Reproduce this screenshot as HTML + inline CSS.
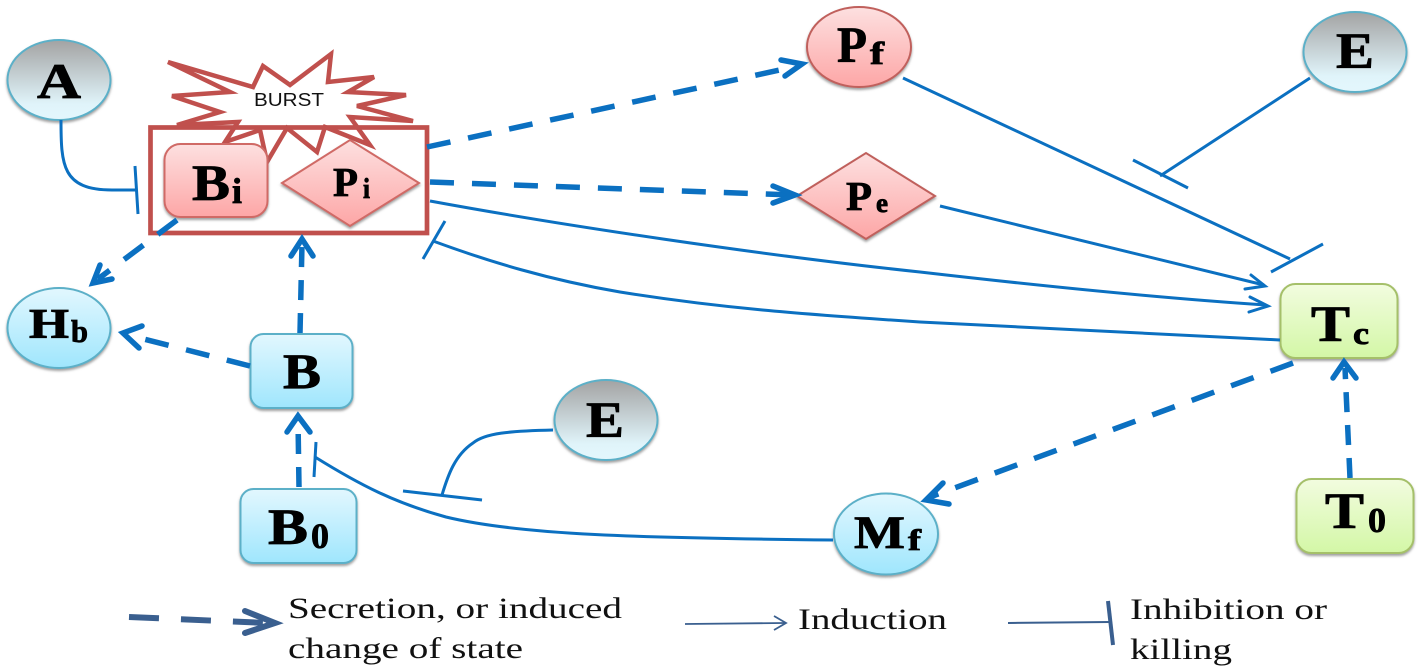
<!DOCTYPE html>
<html><head><meta charset="utf-8"><style>
html,body{margin:0;padding:0;background:#fff;width:1421px;height:672px;overflow:hidden}
svg{display:block;filter:blur(.35px)}
.n{font-family:"Liberation Serif",serif;font-weight:bold;fill:#000;stroke:#000;stroke-width:.8}
.l{font-family:"Liberation Serif",serif;fill:#111;font-size:30px}
.d{fill:none;stroke:#0b70c1;stroke-width:5.5;stroke-dasharray:24 18}
.v{stroke-dasharray:20 13}
.h{fill:none;stroke:#0b70c1;stroke-width:5.5;stroke-linecap:round}
.s{fill:none;stroke:#0b70c1;stroke-width:3}
.a{fill:none;stroke:#0b70c1;stroke-width:3;stroke-linecap:round}
</style></head><body>
<svg width="1421" height="672" viewBox="0 0 1421 672" xmlns="http://www.w3.org/2000/svg">
<defs>
<linearGradient id="b" x1="0" y1="0" x2="0" y2="1"><stop offset="0" stop-color="#e2f7fe"/><stop offset="1" stop-color="#9fe6fd"/></linearGradient>
<linearGradient id="g" x1="0" y1="0" x2="0" y2="1"><stop offset="0" stop-color="#a3a3a3"/><stop offset=".8" stop-color="#e0f4fa"/><stop offset="1" stop-color="#e4f7fd"/></linearGradient>
<linearGradient id="r" x1="0" y1="0" x2="0" y2="1"><stop offset="0" stop-color="#fde0e0"/><stop offset="1" stop-color="#fda6a6"/></linearGradient>
<linearGradient id="v" x1="0" y1="0" x2="0" y2="1"><stop offset="0" stop-color="#f2fcdf"/><stop offset="1" stop-color="#d3f7a6"/></linearGradient>
<filter id="sh" x="-10%" y="-10%" width="120%" height="125%"><feDropShadow dx="0" dy="2" stdDeviation="1.2" flood-color="#777" flood-opacity=".7"/></filter>
</defs>

<polygon points="168,62 253,87 263,66 290,85 331,54 328,82 374,77 348,92 406,95 357,106 413,121 350,117 370,145 325,127 317,152 287,128 267,162 260,130 225,142 238,122 177,125 220,112 172,96 230,92" fill="#fff" stroke="#c0504d" stroke-width="4.500"/>
<text x="254" y="106" font-family="Liberation Sans,sans-serif" font-size="18" textLength="70" lengthAdjust="spacingAndGlyphs" fill="#111">BURST</text>
<rect x="150.500" y="127.500" width="276.500" height="105.500" fill="none" stroke="#c0504d" stroke-width="4.700"/>

<!-- nodes -->
<g filter="url(#sh)">
<ellipse cx="59" cy="80" rx="51.5" ry="40" fill="url(#g)" stroke="#5cb0c8" stroke-width="2"/>
<ellipse cx="1355" cy="52" rx="51.5" ry="40" fill="url(#g)" stroke="#5cb0c8" stroke-width="2"/>
<ellipse cx="606" cy="420" rx="51.5" ry="40" fill="url(#g)" stroke="#5cb0c8" stroke-width="2"/>
<ellipse cx="59" cy="328" rx="51.5" ry="40" fill="url(#b)" stroke="#5cb0c8" stroke-width="2"/>
<ellipse cx="886" cy="534" rx="52" ry="40.5" fill="url(#b)" stroke="#5cb0c8" stroke-width="2"/>
<ellipse cx="859" cy="47" rx="52" ry="40" fill="url(#r)" stroke="#c0605c" stroke-width="2"/>
<rect x="164.500" y="144" width="103" height="73" rx="16" fill="url(#r)" stroke="#d06a66" stroke-width="2"/>
<polygon points="282,183 350,140 419,183 350,226" fill="url(#r)" stroke="#d06a66" stroke-width="2"/>
<polygon points="797,196 866,153 935,196 866,239" fill="url(#r)" stroke="#c0605c" stroke-width="2"/>
<rect x="250.500" y="334" width="102" height="74" rx="13" fill="url(#b)" stroke="#5cb0c8" stroke-width="2"/>
<rect x="240.500" y="489" width="116" height="74" rx="13" fill="url(#b)" stroke="#5cb0c8" stroke-width="2"/>
<rect x="1280.500" y="284" width="117" height="74" rx="15" fill="url(#v)" stroke="#a5c06a" stroke-width="2"/>
<rect x="1296.500" y="479" width="117" height="74" rx="15" fill="url(#v)" stroke="#a5c06a" stroke-width="2"/>
</g>

<!-- labels -->
<text class="n" x="37" y="98" font-size="50" textLength="44" lengthAdjust="spacingAndGlyphs">A</text>
<text class="n" x="192" y="200" font-size="51" textLength="38" lengthAdjust="spacingAndGlyphs">B</text>
<text class="n" x="232" y="203" font-size="36" textLength="10" lengthAdjust="spacingAndGlyphs">i</text>
<text class="n" x="333" y="196" font-size="41" textLength="25" lengthAdjust="spacingAndGlyphs">P</text>
<text class="n" x="363" y="198" font-size="28" textLength="7" lengthAdjust="spacingAndGlyphs">i</text>
<text class="n" x="29" y="338" font-size="42" textLength="40" lengthAdjust="spacingAndGlyphs">H</text>
<text class="n" x="71" y="342" font-size="32" textLength="17" lengthAdjust="spacingAndGlyphs">b</text>
<text class="n" x="283" y="388" font-size="50" textLength="38" lengthAdjust="spacingAndGlyphs">B</text>
<text class="n" x="268" y="544" font-size="51" textLength="40" lengthAdjust="spacingAndGlyphs">B</text>
<text class="n" x="311" y="548" font-size="36" textLength="18" lengthAdjust="spacingAndGlyphs">0</text>
<text class="n" x="586" y="437" font-size="51" textLength="38" lengthAdjust="spacingAndGlyphs">E</text>
<text class="n" x="1336" y="68" font-size="51" textLength="38" lengthAdjust="spacingAndGlyphs">E</text>
<text class="n" x="837" y="62" font-size="51" textLength="30" lengthAdjust="spacingAndGlyphs">P</text>
<text class="n" x="870" y="64" font-size="32" textLength="14" lengthAdjust="spacingAndGlyphs">f</text>
<text class="n" x="846" y="210" font-size="41" textLength="26" lengthAdjust="spacingAndGlyphs">P</text>
<text class="n" x="876" y="212" font-size="27" textLength="12" lengthAdjust="spacingAndGlyphs">e</text>
<text class="n" x="854" y="548" font-size="47" textLength="51" lengthAdjust="spacingAndGlyphs">M</text>
<text class="n" x="908" y="550" font-size="30" textLength="13" lengthAdjust="spacingAndGlyphs">f</text>
<text class="n" x="1311" y="341" font-size="51" textLength="39" lengthAdjust="spacingAndGlyphs">T</text>
<text class="n" x="1353" y="344" font-size="32" textLength="16" lengthAdjust="spacingAndGlyphs">c</text>
<text class="n" x="1325" y="528" font-size="51" textLength="39" lengthAdjust="spacingAndGlyphs">T</text>
<text class="n" x="1368" y="532" font-size="35" textLength="18" lengthAdjust="spacingAndGlyphs">0</text>

<!-- dashed connectors -->
<path class="d" d="M177,220 L98,279"/>
<polyline class="h" points="112,279 93,283 100,265"/>
<path class="d v" d="M300,333 L302,244"/>
<polyline class="h" points="291,256 302,239 313,256"/>
<path class="d" d="M250,366 L128,335"/>
<polyline class="h" points="142,326 123,333 139,348"/>
<path class="d v" d="M299,487 L298,420"/>
<polyline class="h" points="287,432 298,416 310,432"/>
<path class="d" d="M427,147 L798,66"/>
<polyline class="h" points="781,60 802,64 785,76"/>
<path class="d" d="M430,182 L792,195"/>
<polyline class="h" points="773,186 795,195 773,203"/>
<path class="d" d="M1293,363 L930,497"/>
<polyline class="h" points="943,483 926,500 949,504"/>
<path class="d v" d="M1350,478 L1345,368"/>
<polyline class="h" points="1333,378 1344,362 1356,378"/>

<!-- solid connectors -->
<path class="s" d="M61,120 C61,165 62,190 112,190 L136,190"/>
<path class="s" d="M135,166 L138,214"/>
<path class="s" d="M833,540 C640,538 520,535 446,517 C395,503 360,485 315,457"/>
<path class="s" d="M316,442 L314,477"/>
<path class="s" d="M553,430 C510,431 485,433 473,443 C455,455 448,475 442,495"/>
<path class="s" d="M403,491 L482,500"/>
<path class="s" d="M903,78 L1290,259"/>
<path class="s" d="M1271,272 L1323,244"/>
<path class="s" d="M1310,78 L1160,176"/>
<path class="s" d="M1133,160 L1188,188"/>
<path class="s" d="M940,206 L1264,285"/>
<polyline class="a" points="1251,275 1265,286 1245,289"/>
<path class="s" d="M430,201 C560,225 760,255 920,272 C1050,287 1160,298 1266,305"/>
<polyline class="a" points="1250,297 1268,306 1249,312"/>
<path class="s" d="M1280,340 C1150,333 1020,328 920,322 C800,314 720,308 620,292 C550,280 490,262 433,241"/>
<path class="s" d="M445,221 L423,259"/>

<!-- legend -->
<path d="M129,617 L267,623" fill="none" stroke="#3a5f8f" stroke-width="6" stroke-dasharray="30 22"/>
<polyline points="245,611 275,623 245,633" fill="none" stroke="#3a5f8f" stroke-width="6" stroke-linecap="round"/>
<text class="l" x="288" y="618" textLength="334" lengthAdjust="spacingAndGlyphs">Secretion, or induced</text>
<text class="l" x="288" y="658" textLength="235" lengthAdjust="spacingAndGlyphs">change of state</text>
<path d="M685,624 L785,623" fill="none" stroke="#3a5f8f" stroke-width="1.800"/>
<polyline points="774,616 786,623 774,630" fill="none" stroke="#3a5f8f" stroke-width="1.800"/>
<text class="l" x="798" y="629" textLength="149" lengthAdjust="spacingAndGlyphs">Induction</text>
<path d="M1008,623 L1110,622" fill="none" stroke="#3a5f8f" stroke-width="2"/>
<path d="M1108,601 L1113,645" fill="none" stroke="#3a5f8f" stroke-width="4"/>
<text class="l" x="1130" y="619" textLength="197" lengthAdjust="spacingAndGlyphs">Inhibition or</text>
<text class="l" x="1130" y="659" textLength="102" lengthAdjust="spacingAndGlyphs">killing</text>
</svg>
</body></html>
